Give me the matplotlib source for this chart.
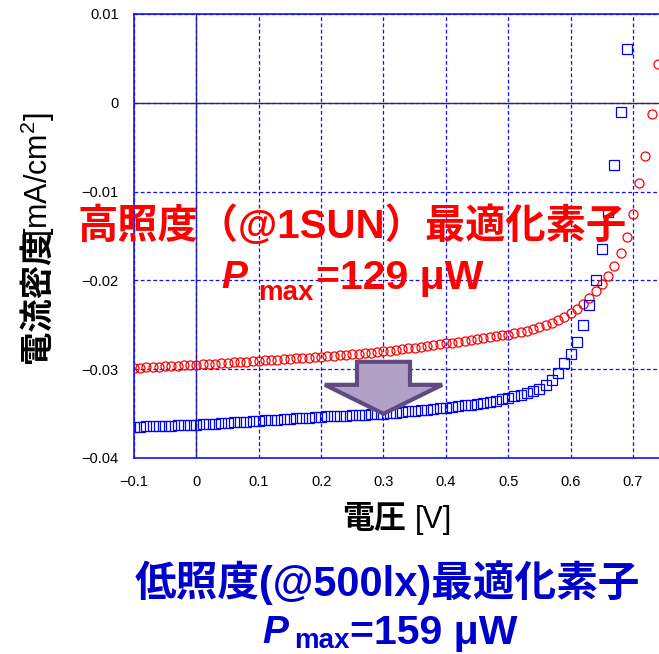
import numpy as np
import matplotlib.pyplot as plt
from matplotlib.patches import FancyArrow
from matplotlib.ticker import FuncFormatter

plt.rcParams['font.family'] = ['Liberation Sans', 'Noto Sans CJK JP']
plt.rcParams['axes.unicode_minus'] = True

# J-V sweep, 10 mV steps
v_high = np.round(np.arange(-0.10, 0.745, 0.01), 2)
j_high = [
    -0.02985, -0.02982, -0.02978, -0.02975, -0.02971, -0.02968, -0.02964, -0.02961, -0.02957, -0.02954,
    -0.02950, -0.02946, -0.02941, -0.02937, -0.02932, -0.02928, -0.02923, -0.02919, -0.02914, -0.02910,
    -0.02905, -0.02901, -0.02896, -0.02892, -0.02887, -0.02883, -0.02878, -0.02874, -0.02869, -0.02865,
    -0.02860, -0.02855, -0.02849, -0.02843, -0.02837, -0.02831, -0.02825, -0.02819, -0.02813, -0.02806,
    -0.02800, -0.02792, -0.02784, -0.02775, -0.02766, -0.02757, -0.02748, -0.02739, -0.02730, -0.02720,
    -0.02710, -0.02700, -0.02690, -0.02680, -0.02670, -0.02660, -0.02650, -0.02640, -0.02630, -0.02620,
    -0.02610, -0.02595, -0.02580, -0.02565, -0.02545, -0.02525, -0.02503, -0.02477, -0.02445, -0.02408,
    -0.02365, -0.02320, -0.02264, -0.02200, -0.02125, -0.02045, -0.01955, -0.01836, -0.01689, -0.01509,
    -0.01250, -0.00901, -0.00597, -0.00124, 0.00440,
]

v_low = np.round(np.arange(-0.10, 0.695, 0.01), 2)
j_low = [
    -0.03649, -0.03647, -0.03645, -0.03642, -0.03640, -0.03638, -0.03635, -0.03633, -0.03631, -0.03628,
    -0.03626, -0.03621, -0.03617, -0.03612, -0.03608, -0.03603, -0.03598, -0.03594, -0.03589, -0.03585,
    -0.03580, -0.03576, -0.03571, -0.03567, -0.03562, -0.03558, -0.03554, -0.03549, -0.03545, -0.03540,
    -0.03536, -0.03532, -0.03529, -0.03525, -0.03522, -0.03518, -0.03514, -0.03511, -0.03507, -0.03504,
    -0.03500, -0.03494, -0.03488, -0.03481, -0.03475, -0.03468, -0.03462, -0.03455, -0.03449, -0.03442,
    -0.03435, -0.03426, -0.03417, -0.03408, -0.03398, -0.03388, -0.03377, -0.03366, -0.03354, -0.03338,
    -0.03320, -0.03303, -0.03285, -0.03265, -0.03243, -0.03218, -0.03180, -0.03120, -0.03040, -0.02928,
    -0.02827, -0.02691, -0.02500, -0.02275, -0.01993, -0.01644, -0.01227, -0.00698, -0.00101, 0.00608,
]

x_ticks = [-0.1, 0, 0.1, 0.2, 0.3, 0.4, 0.5, 0.6, 0.7]
y_ticks = [-0.04, -0.03, -0.02, -0.01, 0, 0.01]

W, H = 659, 654
fig = plt.figure(figsize=(W / 100, H / 100), dpi=100)
ax = fig.add_axes([134 / W, 1 - 458 / H, 1 - 134 / W, (458 - 14) / H])

ax.set_xlim(-0.1, 0.7417)
ax.set_ylim(-0.04, 0.01)
ax.set_xticks(x_ticks)
ax.set_yticks(y_ticks)

fmt = FuncFormatter(lambda v, p: '0' if abs(v) < 1e-9 else ('%g' % v).replace('-', '\u2212'))
ax.xaxis.set_major_formatter(fmt)
ax.yaxis.set_major_formatter(fmt)
ax.tick_params(length=0, labelsize=10.5, colors='black')
ax.tick_params(axis='y', pad=11)
ax.tick_params(axis='x', pad=12)

ax.grid(True, color='#1010ff', linestyle=(0, (3, 2)), linewidth=0.9)
ax.axhline(0, color='#333333', linewidth=1.0, zorder=1)
ax.axvline(0, color='#333333', linewidth=1.0, zorder=1)
for side in ['left', 'top', 'bottom']:
    ax.spines[side].set_color('#1010ff')
    ax.spines[side].set_linewidth(1.2)
ax.spines['right'].set_visible(False)

ax.plot(v_high, j_high, 'o', mfc='none', mec='#ff0000', ms=6.5, mew=0.9, zorder=3)
ax.plot(v_low, j_low, 's', mfc='none', mec='#0000ff', ms=6.5, mew=0.9, zorder=3)

ax.add_patch(FancyArrow(0.30, -0.02917, 0, -0.00585, width=0.085, head_width=0.188,
                        head_length=0.00326, length_includes_head=True,
                        fc='#b1a0c7', ec='#5f4b7f', lw=3, zorder=4))


def px(x, y):
    return x / W, 1 - y / H


# axis titles
fig.text(*px(38, 363), '電流密度', rotation=90, ha='center', va='bottom',
         fontsize=24, fontweight='bold')
fig.text(*px(38, 237), '[mA/cm$^{\\mathregular{2}}$]', rotation=90, ha='center', va='bottom',
         fontsize=22)
fig.text(*px(342, 520), '電圧', ha='left', va='center', fontsize=23, fontweight='bold')
fig.text(*px(415, 520), '[V]', ha='left', va='center', fontsize=22)

red = '#ff0000'
blue = '#0000cc'
fig.text(*px(352, 226), '高照度（@1SUN）最適化素子', ha='center', va='center',
         fontsize=29, fontweight='bold', color=red, zorder=5)
fig.text(*px(221, 288), 'P', ha='left', va='baseline', fontsize=28,
         fontweight='bold', fontstyle='italic', color=red, zorder=5)
fig.text(*px(258, 300), 'max', ha='left', va='baseline', fontsize=20,
         fontweight='bold', color=red, zorder=5)
fig.text(*px(316, 289), '=129 μW', ha='left', va='baseline', fontsize=29.5,
         fontweight='bold', color=red, zorder=5)

fig.text(*px(387, 583), '低照度(@500lx)最適化素子', ha='center', va='center',
         fontsize=30, fontweight='bold', color=blue)
fig.text(*px(262, 643), 'P', ha='left', va='baseline', fontsize=28,
         fontweight='bold', fontstyle='italic', color=blue)
fig.text(*px(294, 648), 'max', ha='left', va='baseline', fontsize=20,
         fontweight='bold', color=blue)
fig.text(*px(350, 644), '=159 μW', ha='left', va='baseline', fontsize=29.5,
         fontweight='bold', color=blue)

fig.savefig('out.png', dpi=100)
